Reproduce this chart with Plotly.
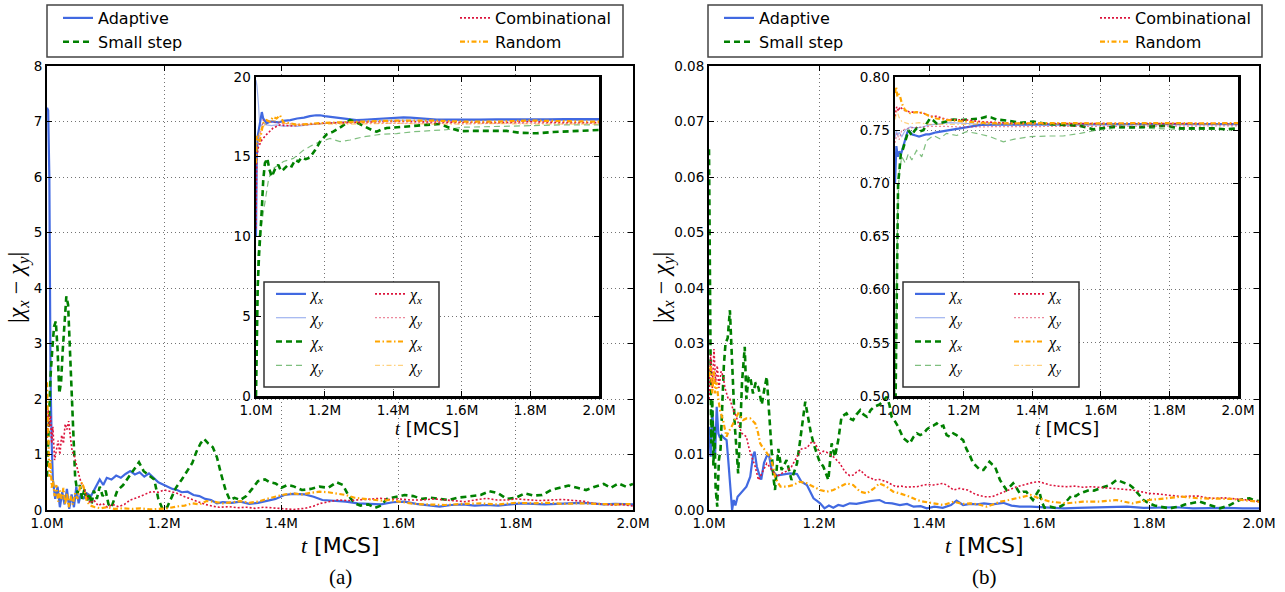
import plotly.graph_objects as go

W, H = 1285, 592

# ---------------- data (t in millions of MCS) ----------------
# Panel (a) main: |chi_x - chi_y|
A_ADAPTIVE = [(1.000, 7.25), (1.002, 7.2), (1.004, 6.0), (1.006, 2.4), (1.008, 1.2), (1.010, 0.55), (1.014, 0.2), (1.018, 0.42), (1.022, 0.05), (1.026, 0.32), (1.030, 0.1), (1.034, 0.38), (1.038, 0.02), (1.042, 0.28), (1.046, 0.05), (1.050, 0.42), (1.054, 0.12), (1.058, 0.3), (1.062, 0.2), (1.068, 0.3), (1.075, 0.25), (1.082, 0.4), (1.090, 0.55), (1.096, 0.45), (1.102, 0.58), (1.110, 0.55), (1.118, 0.62), (1.126, 0.58), (1.134, 0.65), (1.142, 0.7), (1.150, 0.64), (1.158, 0.68), (1.166, 0.6), (1.174, 0.66), (1.182, 0.58), (1.190, 0.5), (1.198, 0.46), (1.206, 0.42), (1.214, 0.38), (1.222, 0.36), (1.230, 0.32), (1.240, 0.33), (1.250, 0.27), (1.260, 0.25), (1.270, 0.2), (1.280, 0.18), (1.290, 0.12), (1.300, 0.14), (1.315, 0.13), (1.330, 0.15), (1.345, 0.11), (1.360, 0.13), (1.375, 0.16), (1.390, 0.2), (1.405, 0.27), (1.420, 0.29), (1.440, 0.28), (1.455, 0.24), (1.470, 0.18), (1.490, 0.17), (1.510, 0.15), (1.530, 0.12), (1.550, 0.11), (1.570, 0.1), (1.590, 0.14), (1.610, 0.15), (1.630, 0.11), (1.650, 0.08), (1.670, 0.06), (1.690, 0.09), (1.710, 0.1), (1.730, 0.08), (1.750, 0.09), (1.770, 0.08), (1.790, 0.1), (1.810, 0.12), (1.830, 0.11), (1.850, 0.1), (1.870, 0.11), (1.890, 0.12), (1.910, 0.13), (1.930, 0.12), (1.950, 0.1), (1.970, 0.11), (1.990, 0.1), (2.000, 0.1)]
A_SMALL = [(1.000, 0.6), (1.003, 1.5), (1.006, 2.4), (1.009, 2.9), (1.012, 3.3), (1.015, 3.4), (1.018, 2.9), (1.021, 2.1), (1.024, 2.3), (1.027, 2.9), (1.030, 3.5), (1.033, 3.85), (1.036, 3.7), (1.039, 2.9), (1.042, 2.0), (1.045, 1.1), (1.048, 0.6), (1.052, 0.3), (1.056, 0.45), (1.060, 0.2), (1.064, 0.38), (1.068, 0.15), (1.072, 0.3), (1.076, 0.1), (1.080, 0.35), (1.085, 0.2), (1.090, 0.42), (1.095, 0.25), (1.100, 0.35), (1.105, 0.1), (1.110, 0.05), (1.115, 0.2), (1.120, 0.35), (1.130, 0.45), (1.140, 0.6), (1.150, 0.75), (1.157, 0.86), (1.165, 0.7), (1.175, 0.62), (1.183, 0.55), (1.190, 0.2), (1.197, 0.02), (1.205, 0.05), (1.212, 0.2), (1.220, 0.4), (1.230, 0.55), (1.240, 0.72), (1.248, 0.85), (1.255, 1.05), (1.262, 1.2), (1.268, 1.28), (1.275, 1.2), (1.283, 1.13), (1.290, 0.95), (1.297, 0.65), (1.305, 0.35), (1.312, 0.18), (1.320, 0.22), (1.330, 0.18), (1.340, 0.25), (1.350, 0.38), (1.360, 0.52), (1.372, 0.55), (1.380, 0.5), (1.390, 0.48), (1.400, 0.4), (1.410, 0.45), (1.420, 0.43), (1.435, 0.36), (1.450, 0.38), (1.465, 0.42), (1.480, 0.4), (1.494, 0.5), (1.505, 0.45), (1.515, 0.25), (1.525, 0.12), (1.535, 0.08), (1.548, 0.1), (1.560, 0.04), (1.570, 0.08), (1.580, 0.2), (1.595, 0.24), (1.610, 0.27), (1.625, 0.25), (1.640, 0.2), (1.655, 0.22), (1.670, 0.2), (1.685, 0.18), (1.700, 0.22), (1.720, 0.24), (1.740, 0.27), (1.755, 0.34), (1.770, 0.3), (1.785, 0.2), (1.800, 0.22), (1.815, 0.3), (1.830, 0.26), (1.845, 0.27), (1.860, 0.36), (1.875, 0.4), (1.890, 0.44), (1.905, 0.4), (1.920, 0.36), (1.935, 0.42), (1.950, 0.47), (1.962, 0.4), (1.975, 0.48), (1.988, 0.42), (2.000, 0.47)]
A_COMB = [(1.000, 1.3), (1.002, 1.8), (1.004, 1.5), (1.006, 1.7), (1.008, 1.2), (1.010, 1.5), (1.013, 0.9), (1.016, 1.1), (1.019, 1.25), (1.022, 1.0), (1.025, 1.35), (1.028, 1.2), (1.031, 1.55), (1.034, 1.45), (1.037, 1.6), (1.040, 1.3), (1.043, 1.05), (1.046, 1.0), (1.050, 0.8), (1.054, 0.65), (1.058, 0.5), (1.063, 0.4), (1.068, 0.25), (1.074, 0.12), (1.080, 0.18), (1.087, 0.08), (1.095, 0.12), (1.103, 0.05), (1.112, 0.1), (1.122, 0.06), (1.132, 0.1), (1.142, 0.18), (1.153, 0.22), (1.164, 0.27), (1.178, 0.33), (1.190, 0.32), (1.200, 0.36), (1.212, 0.33), (1.222, 0.3), (1.235, 0.24), (1.245, 0.2), (1.258, 0.14), (1.270, 0.1), (1.282, 0.07), (1.294, 0.05), (1.310, 0.06), (1.325, 0.04), (1.340, 0.05), (1.355, 0.03), (1.370, 0.05), (1.388, 0.04), (1.405, 0.02), (1.420, 0.01), (1.440, 0.03), (1.455, 0.07), (1.467, 0.12), (1.480, 0.15), (1.496, 0.18), (1.515, 0.17), (1.532, 0.18), (1.550, 0.2), (1.569, 0.21), (1.585, 0.19), (1.600, 0.2), (1.620, 0.18), (1.640, 0.18), (1.660, 0.2), (1.677, 0.18), (1.695, 0.16), (1.713, 0.15), (1.730, 0.18), (1.750, 0.21), (1.768, 0.18), (1.785, 0.18), (1.800, 0.2), (1.820, 0.19), (1.840, 0.17), (1.860, 0.18), (1.880, 0.19), (1.900, 0.17), (1.915, 0.16), (1.930, 0.12), (1.950, 0.11), (1.965, 0.09), (1.980, 0.1), (2.000, 0.07)]
A_RANDOM = [(1.000, 2.3), (1.002, 1.2), (1.004, 0.6), (1.006, 0.9), (1.008, 0.4), (1.010, 0.55), (1.013, 0.25), (1.016, 0.45), (1.019, 0.15), (1.022, 0.35), (1.025, 0.2), (1.028, 0.4), (1.031, 0.1), (1.034, 0.3), (1.037, 0.05), (1.040, 0.25), (1.044, 0.1), (1.048, 0.3), (1.052, 0.2), (1.056, 0.4), (1.060, 0.5), (1.064, 0.35), (1.068, 0.15), (1.074, 0.08), (1.082, 0.05), (1.092, 0.03), (1.102, 0.05), (1.115, 0.02), (1.130, 0.03), (1.145, 0.02), (1.160, 0.03), (1.175, 0.01), (1.190, 0.02), (1.205, 0.03), (1.220, 0.06), (1.235, 0.08), (1.248, 0.12), (1.260, 0.1), (1.272, 0.16), (1.285, 0.15), (1.300, 0.12), (1.315, 0.14), (1.330, 0.16), (1.345, 0.13), (1.360, 0.15), (1.375, 0.2), (1.390, 0.24), (1.405, 0.28), (1.420, 0.3), (1.435, 0.28), (1.450, 0.31), (1.465, 0.33), (1.480, 0.32), (1.495, 0.3), (1.510, 0.27), (1.525, 0.22), (1.540, 0.2), (1.555, 0.19), (1.570, 0.17), (1.585, 0.18), (1.600, 0.15), (1.625, 0.11), (1.650, 0.1), (1.680, 0.09), (1.710, 0.11), (1.740, 0.12), (1.770, 0.1), (1.800, 0.13), (1.830, 0.12), (1.855, 0.13), (1.880, 0.11), (1.910, 0.12), (1.940, 0.11), (1.970, 0.1), (2.000, 0.11)]

# Panel (a) inset: chi_x and chi_y
AI_ADAPTIVE_X = [(1.000, 10.0), (1.002, 14.8), (1.005, 16.3), (1.010, 16.9), (1.014, 17.5), (1.017, 17.8), (1.021, 17.4), (1.026, 17.2), (1.031, 17.1), (1.040, 17.2), (1.050, 17.2), (1.065, 17.15), (1.080, 17.25), (1.100, 17.3), (1.120, 17.4), (1.140, 17.45), (1.157, 17.55), (1.175, 17.6), (1.187, 17.6), (1.200, 17.55), (1.216, 17.5), (1.235, 17.45), (1.255, 17.4), (1.275, 17.35), (1.293, 17.3), (1.312, 17.32), (1.332, 17.35), (1.360, 17.38), (1.390, 17.4), (1.410, 17.45), (1.430, 17.47), (1.450, 17.45), (1.470, 17.42), (1.500, 17.38), (1.527, 17.33), (1.560, 17.33), (1.604, 17.32), (1.650, 17.33), (1.700, 17.35), (1.750, 17.34), (1.800, 17.35), (1.850, 17.34), (1.900, 17.36), (1.950, 17.35), (2.000, 17.36)]
AI_ADAPTIVE_Y = [(1.000, 19.8), (1.003, 19.4), (1.007, 18.35), (1.010, 17.3), (1.014, 16.9), (1.021, 17.1), (1.030, 17.0), (1.045, 16.95), (1.060, 17.0), (1.080, 16.9), (1.100, 16.95), (1.120, 16.9), (1.150, 17.0), (1.180, 17.05), (1.220, 17.15), (1.260, 17.2), (1.300, 17.2), (1.350, 17.25), (1.400, 17.3), (1.450, 17.3), (1.500, 17.28), (1.600, 17.27), (1.700, 17.28), (1.800, 17.27), (1.900, 17.28), (2.000, 17.28)]
AI_SMALL_X = [(1.000, 0.0), (1.002, 3.7), (1.005, 6.85), (1.009, 8.9), (1.014, 10.4), (1.017, 11.7), (1.021, 13.5), (1.026, 14.6), (1.033, 14.9), (1.039, 14.2), (1.046, 13.75), (1.055, 14.2), (1.065, 14.5), (1.073, 14.1), (1.080, 14.2), (1.094, 14.5), (1.104, 14.4), (1.114, 14.8), (1.124, 14.7), (1.133, 14.95), (1.145, 14.85), (1.157, 14.95), (1.172, 15.4), (1.187, 15.95), (1.206, 16.4), (1.225, 16.57), (1.250, 16.9), (1.262, 17.1), (1.274, 17.3), (1.298, 17.1), (1.323, 16.8), (1.340, 16.65), (1.352, 16.57), (1.365, 16.7), (1.381, 16.8), (1.420, 16.85), (1.459, 16.93), (1.497, 17.0), (1.536, 17.05), (1.566, 16.8), (1.595, 16.6), (1.634, 16.62), (1.682, 16.6), (1.731, 16.62), (1.770, 16.5), (1.818, 16.47), (1.867, 16.55), (1.915, 16.6), (1.954, 16.63), (2.000, 16.68)]
AI_SMALL_Y = [(1.000, 0.0), (1.002, 5.8), (1.005, 8.7), (1.010, 10.2), (1.015, 10.6), (1.021, 11.45), (1.029, 12.5), (1.036, 13.5), (1.046, 14.2), (1.060, 14.4), (1.080, 14.7), (1.109, 14.9), (1.138, 15.4), (1.162, 15.7), (1.187, 15.95), (1.216, 16.15), (1.245, 15.95), (1.274, 16.05), (1.313, 16.25), (1.362, 16.4), (1.410, 16.45), (1.459, 16.57), (1.507, 16.63), (1.556, 16.7), (1.604, 16.85), (1.700, 16.9), (1.800, 16.93), (1.900, 17.0), (2.000, 17.0)]
AI_COMB_X = [(1.000, 10.5), (1.002, 15.0), (1.007, 15.6), (1.017, 16.05), (1.031, 16.4), (1.050, 16.8), (1.070, 17.0), (1.100, 16.93), (1.138, 17.0), (1.196, 17.1), (1.264, 17.15), (1.332, 17.2), (1.410, 17.22), (1.507, 17.18), (1.604, 17.15), (1.700, 17.15), (1.800, 17.2), (1.900, 17.15), (2.000, 17.15)]
AI_COMB_Y = [(1.000, 12.0), (1.002, 15.2), (1.011, 16.3), (1.021, 17.3), (1.040, 17.2), (1.070, 17.1), (1.120, 17.05), (1.200, 17.1), (1.300, 17.1), (1.400, 17.12), (1.500, 17.1), (1.600, 17.08), (1.700, 17.1), (1.800, 17.1), (1.900, 17.08), (2.000, 17.1)]
AI_RANDOM_X = [(1.000, 14.6), (1.002, 16.3), (1.010, 15.9), (1.017, 16.6), (1.021, 17.1), (1.031, 17.3), (1.040, 17.2), (1.050, 17.5), (1.060, 17.4), (1.070, 17.6), (1.080, 17.15), (1.100, 17.1), (1.120, 17.0), (1.150, 17.05), (1.177, 17.1), (1.235, 17.15), (1.313, 17.2), (1.410, 17.27), (1.507, 17.27), (1.604, 17.2), (1.700, 17.2), (1.800, 17.27), (1.900, 17.23), (2.000, 17.2)]
AI_RANDOM_Y = [(1.000, 15.5), (1.003, 16.0), (1.012, 16.7), (1.021, 16.9), (1.040, 17.3), (1.070, 17.2), (1.100, 17.0), (1.200, 17.05), (1.300, 17.05), (1.400, 17.1), (1.500, 17.05), (1.600, 17.05), (1.700, 17.08), (1.800, 17.05), (1.900, 17.05), (2.000, 17.05)]

# Panel (b) main
B_ADAPTIVE = [(1.000, 0.015), (1.003, 0.0096), (1.006, 0.018), (1.009, 0.012), (1.011, 0.0096), (1.014, 0.0186), (1.017, 0.0138), (1.020, 0.013), (1.023, 0.0135), (1.027, 0.013), (1.032, 0.0126), (1.035, 0.009), (1.038, 0.0054), (1.040, 0.002), (1.042, 0.0), (1.045, 0.0018), (1.048, 0.0008), (1.052, 0.0024), (1.057, 0.003), (1.062, 0.0036), (1.068, 0.0042), (1.075, 0.006), (1.080, 0.0098), (1.083, 0.0105), (1.087, 0.0078), (1.091, 0.0065), (1.095, 0.0055), (1.100, 0.0085), (1.105, 0.0097), (1.109, 0.0099), (1.114, 0.0072), (1.123, 0.0062), (1.135, 0.0064), (1.147, 0.0066), (1.160, 0.0065), (1.168, 0.0051), (1.178, 0.0045), (1.185, 0.003), (1.190, 0.0021), (1.197, 0.0016), (1.202, 0.0012), (1.210, 0.0003), (1.218, 0.0008), (1.226, 0.0004), (1.235, 0.0009), (1.244, 0.0007), (1.256, 0.0012), (1.268, 0.0011), (1.280, 0.0014), (1.293, 0.0016), (1.310, 0.0018), (1.320, 0.0013), (1.333, 0.0012), (1.347, 0.0009), (1.360, 0.0011), (1.372, 0.0006), (1.385, 0.0007), (1.396, 0.0003), (1.410, 0.0006), (1.425, 0.0004), (1.440, 0.0009), (1.450, 0.0017), (1.462, 0.0009), (1.475, 0.0011), (1.487, 0.001), (1.500, 0.0012), (1.515, 0.001), (1.535, 0.0013), (1.550, 0.0008), (1.565, 0.0006), (1.585, 0.0006), (1.600, 0.0005), (1.620, 0.0004), (1.645, 0.0003), (1.670, 0.0004), (1.700, 0.0005), (1.730, 0.0006), (1.760, 0.0006), (1.790, 0.0004), (1.820, 0.0004), (1.850, 0.0005), (1.880, 0.0003), (1.910, 0.0004), (1.940, 0.0004), (1.970, 0.0003), (2.000, 0.0003)]
B_SMALL = [(1.000, 0.065), (1.002, 0.03), (1.004, 0.012), (1.006, 0.02), (1.008, 0.008), (1.010, 0.015), (1.012, 0.004), (1.015, 0.0006), (1.018, 0.009), (1.021, 0.011), (1.024, 0.02), (1.027, 0.026), (1.030, 0.03), (1.034, 0.031), (1.038, 0.036), (1.041, 0.029), (1.044, 0.02), (1.047, 0.015), (1.050, 0.011), (1.053, 0.0066), (1.057, 0.015), (1.060, 0.023), (1.065, 0.0294), (1.068, 0.02), (1.072, 0.024), (1.075, 0.024), (1.080, 0.021), (1.085, 0.023), (1.090, 0.022), (1.096, 0.019), (1.101, 0.022), (1.105, 0.024), (1.111, 0.015), (1.117, 0.006), (1.120, 0.0036), (1.126, 0.011), (1.132, 0.0072), (1.141, 0.009), (1.150, 0.0054), (1.160, 0.0084), (1.165, 0.012), (1.170, 0.016), (1.175, 0.0195), (1.180, 0.0168), (1.185, 0.014), (1.190, 0.012), (1.200, 0.009), (1.208, 0.0078), (1.217, 0.0054), (1.223, 0.012), (1.229, 0.0096), (1.235, 0.0126), (1.241, 0.0168), (1.250, 0.0174), (1.256, 0.0165), (1.262, 0.0162), (1.268, 0.0172), (1.275, 0.018), (1.281, 0.0172), (1.287, 0.0168), (1.294, 0.018), (1.300, 0.0186), (1.310, 0.019), (1.317, 0.0196), (1.323, 0.0204), (1.328, 0.019), (1.332, 0.0168), (1.338, 0.016), (1.344, 0.015), (1.353, 0.013), (1.360, 0.0125), (1.365, 0.012), (1.372, 0.0132), (1.378, 0.0138), (1.384, 0.0135), (1.390, 0.0138), (1.396, 0.0145), (1.402, 0.015), (1.408, 0.0152), (1.414, 0.0156), (1.420, 0.015), (1.426, 0.0152), (1.432, 0.0135), (1.438, 0.0132), (1.444, 0.0138), (1.450, 0.0135), (1.456, 0.013), (1.462, 0.0126), (1.468, 0.011), (1.474, 0.0099), (1.480, 0.0085), (1.487, 0.0078), (1.493, 0.0072), (1.499, 0.0072), (1.505, 0.008), (1.510, 0.0087), (1.515, 0.0082), (1.520, 0.0078), (1.525, 0.0065), (1.529, 0.0054), (1.535, 0.0045), (1.541, 0.0036), (1.547, 0.0042), (1.553, 0.0048), (1.559, 0.004), (1.565, 0.003), (1.571, 0.0033), (1.577, 0.0033), (1.583, 0.0025), (1.589, 0.0018), (1.595, 0.0028), (1.600, 0.0036), (1.605, 0.0015), (1.610, 0.0004), (1.620, 0.0006), (1.632, 0.0003), (1.644, 0.0009), (1.652, 0.0018), (1.660, 0.0027), (1.667, 0.0025), (1.674, 0.003), (1.683, 0.0033), (1.692, 0.0036), (1.700, 0.0035), (1.710, 0.0039), (1.719, 0.0042), (1.729, 0.0045), (1.735, 0.005), (1.741, 0.0054), (1.747, 0.0052), (1.753, 0.005), (1.759, 0.0048), (1.765, 0.0045), (1.771, 0.004), (1.777, 0.0033), (1.784, 0.0025), (1.790, 0.0018), (1.800, 0.0012), (1.810, 0.0008), (1.820, 0.0006), (1.830, 0.0004), (1.838, 0.0003), (1.847, 0.0005), (1.856, 0.0006), (1.865, 0.001), (1.874, 0.0012), (1.883, 0.0014), (1.892, 0.0015), (1.901, 0.0012), (1.910, 0.0009), (1.920, 0.0005), (1.929, 0.0003), (1.938, 0.0006), (1.947, 0.0009), (1.956, 0.0014), (1.965, 0.0018), (1.974, 0.002), (1.983, 0.0021), (1.990, 0.0018), (2.000, 0.0016)]
B_COMB = [(1.000, 0.02), (1.003, 0.028), (1.006, 0.022), (1.009, 0.029), (1.012, 0.023), (1.015, 0.026), (1.018, 0.022), (1.022, 0.025), (1.026, 0.024), (1.029, 0.022), (1.032, 0.021), (1.035, 0.02), (1.038, 0.02), (1.041, 0.019), (1.044, 0.018), (1.049, 0.017), (1.053, 0.0156), (1.057, 0.0145), (1.060, 0.0138), (1.064, 0.0135), (1.068, 0.0132), (1.073, 0.011), (1.078, 0.0096), (1.084, 0.0078), (1.090, 0.0054), (1.096, 0.0066), (1.100, 0.0075), (1.105, 0.0084), (1.110, 0.0078), (1.114, 0.0072), (1.119, 0.0064), (1.123, 0.006), (1.132, 0.0066), (1.141, 0.007), (1.150, 0.0078), (1.155, 0.0088), (1.160, 0.0096), (1.168, 0.011), (1.178, 0.0112), (1.187, 0.0123), (1.193, 0.012), (1.202, 0.0102), (1.208, 0.0106), (1.214, 0.0104), (1.220, 0.01), (1.226, 0.0096), (1.232, 0.009), (1.238, 0.0084), (1.244, 0.0074), (1.250, 0.0066), (1.256, 0.0062), (1.262, 0.0063), (1.268, 0.0068), (1.275, 0.0072), (1.281, 0.0066), (1.287, 0.006), (1.294, 0.0058), (1.300, 0.0054), (1.310, 0.0055), (1.323, 0.0051), (1.332, 0.0046), (1.340, 0.0042), (1.350, 0.0043), (1.360, 0.0041), (1.370, 0.0042), (1.378, 0.0042), (1.387, 0.0044), (1.396, 0.0046), (1.408, 0.0045), (1.418, 0.0047), (1.426, 0.0048), (1.435, 0.0043), (1.445, 0.0036), (1.455, 0.0039), (1.470, 0.0036), (1.485, 0.0028), (1.500, 0.0024), (1.515, 0.0024), (1.530, 0.003), (1.545, 0.0036), (1.560, 0.0042), (1.575, 0.0046), (1.590, 0.005), (1.600, 0.0051), (1.610, 0.0048), (1.620, 0.0045), (1.635, 0.0043), (1.650, 0.0042), (1.665, 0.0043), (1.680, 0.0041), (1.695, 0.0042), (1.710, 0.0041), (1.725, 0.004), (1.740, 0.0039), (1.755, 0.0038), (1.770, 0.0036), (1.785, 0.0033), (1.800, 0.003), (1.815, 0.0029), (1.830, 0.0027), (1.845, 0.0026), (1.860, 0.0024), (1.875, 0.0025), (1.890, 0.0025), (1.905, 0.0022), (1.920, 0.0021), (1.935, 0.0022), (1.950, 0.0021), (1.965, 0.0019), (1.980, 0.0018), (2.000, 0.0015)]
B_RANDOM = [(1.000, 0.024), (1.003, 0.026), (1.006, 0.021), (1.009, 0.025), (1.011, 0.021), (1.014, 0.023), (1.017, 0.02), (1.020, 0.018), (1.023, 0.017), (1.026, 0.016), (1.029, 0.0145), (1.032, 0.0132), (1.035, 0.014), (1.038, 0.0144), (1.041, 0.015), (1.044, 0.0156), (1.049, 0.0165), (1.053, 0.0174), (1.058, 0.0168), (1.062, 0.0162), (1.068, 0.0165), (1.075, 0.0165), (1.080, 0.016), (1.084, 0.0156), (1.089, 0.014), (1.093, 0.012), (1.098, 0.0112), (1.102, 0.0108), (1.107, 0.01), (1.111, 0.0096), (1.116, 0.008), (1.120, 0.006), (1.125, 0.005), (1.130, 0.0042), (1.141, 0.0042), (1.153, 0.0045), (1.165, 0.0051), (1.178, 0.0048), (1.190, 0.0042), (1.202, 0.0036), (1.214, 0.0033), (1.226, 0.0036), (1.238, 0.0042), (1.250, 0.0048), (1.262, 0.0045), (1.275, 0.0033), (1.287, 0.003), (1.300, 0.0039), (1.310, 0.0048), (1.323, 0.0042), (1.335, 0.0033), (1.347, 0.003), (1.365, 0.0024), (1.378, 0.0018), (1.390, 0.0015), (1.408, 0.0012), (1.426, 0.0009), (1.445, 0.0015), (1.460, 0.0011), (1.475, 0.0012), (1.490, 0.001), (1.505, 0.0006), (1.530, 0.0015), (1.545, 0.0018), (1.560, 0.0021), (1.575, 0.0024), (1.585, 0.0027), (1.600, 0.0021), (1.620, 0.0015), (1.650, 0.0012), (1.680, 0.0015), (1.710, 0.0015), (1.740, 0.0018), (1.770, 0.0012), (1.800, 0.0018), (1.830, 0.0021), (1.860, 0.0024), (1.890, 0.0021), (1.920, 0.0021), (1.950, 0.002), (1.980, 0.0017), (2.000, 0.0015)]

# Panel (b) inset
BI_ADAPTIVE_X = [(1.000, 0.70), (1.004, 0.735), (1.008, 0.725), (1.012, 0.73), (1.018, 0.728), (1.024, 0.735), (1.030, 0.742), (1.036, 0.748), (1.042, 0.749), (1.050, 0.746), (1.060, 0.745), (1.070, 0.744), (1.080, 0.745), (1.090, 0.746), (1.100, 0.746), (1.120, 0.748), (1.150, 0.7495), (1.180, 0.751), (1.210, 0.753), (1.250, 0.755), (1.300, 0.7552), (1.350, 0.7553), (1.400, 0.7556), (1.500, 0.7558), (1.600, 0.7557), (1.700, 0.7557), (1.800, 0.7557), (1.900, 0.7556), (2.000, 0.7557)]
BI_ADAPTIVE_Y = [(1.000, 0.742), (1.004, 0.75), (1.008, 0.745), (1.012, 0.748), (1.020, 0.744), (1.030, 0.75), (1.045, 0.753), (1.060, 0.752), (1.080, 0.753), (1.100, 0.755), (1.130, 0.756), (1.160, 0.757), (1.200, 0.7565), (1.250, 0.7555), (1.300, 0.7555), (1.400, 0.7555), (1.500, 0.7556), (1.600, 0.7555), (1.700, 0.7556), (1.800, 0.7555), (1.900, 0.7556), (2.000, 0.7556)]
BI_SMALL_X = [(1.000, 0.45), (1.003, 0.55), (1.006, 0.64), (1.009, 0.70), (1.013, 0.7125), (1.017, 0.728), (1.022, 0.731), (1.029, 0.7376), (1.034, 0.744), (1.039, 0.75), (1.044, 0.748), (1.049, 0.745), (1.056, 0.749), (1.063, 0.7517), (1.073, 0.749), (1.083, 0.75), (1.092, 0.756), (1.102, 0.761), (1.112, 0.759), (1.121, 0.7564), (1.135, 0.757), (1.150, 0.758), (1.170, 0.760), (1.190, 0.7595), (1.219, 0.760), (1.248, 0.761), (1.267, 0.7627), (1.280, 0.762), (1.296, 0.760), (1.326, 0.759), (1.364, 0.757), (1.403, 0.758), (1.442, 0.7558), (1.490, 0.755), (1.540, 0.754), (1.578, 0.7508), (1.598, 0.7517), (1.637, 0.7533), (1.696, 0.7527), (1.753, 0.7533), (1.792, 0.754), (1.831, 0.7517), (1.880, 0.7517), (1.928, 0.7517), (1.967, 0.7508), (2.000, 0.7517)]
BI_SMALL_Y = [(1.000, 0.50), (1.004, 0.62), (1.008, 0.675), (1.012, 0.71), (1.020, 0.725), (1.030, 0.719), (1.039, 0.728), (1.049, 0.722), (1.063, 0.731), (1.078, 0.725), (1.092, 0.74), (1.112, 0.745), (1.131, 0.742), (1.150, 0.747), (1.180, 0.745), (1.209, 0.7486), (1.238, 0.747), (1.277, 0.7439), (1.316, 0.739), (1.345, 0.7414), (1.394, 0.7439), (1.442, 0.7445), (1.490, 0.7445), (1.540, 0.747), (1.588, 0.75), (1.637, 0.7517), (1.734, 0.7517), (1.831, 0.7508), (1.928, 0.7508), (2.000, 0.7517)]
BI_COMB_X = [(1.000, 0.763), (1.005, 0.772), (1.010, 0.768), (1.015, 0.772), (1.024, 0.769), (1.044, 0.767), (1.063, 0.767), (1.083, 0.766), (1.102, 0.763), (1.121, 0.763), (1.150, 0.760), (1.180, 0.7596), (1.209, 0.7596), (1.248, 0.758), (1.300, 0.757), (1.345, 0.7564), (1.400, 0.7562), (1.500, 0.7562), (1.600, 0.7564), (1.700, 0.7562), (1.800, 0.7564), (1.900, 0.7562), (2.000, 0.7562)]
BI_COMB_Y = [(1.000, 0.738), (1.006, 0.747), (1.012, 0.741), (1.020, 0.75), (1.040, 0.752), (1.070, 0.753), (1.100, 0.7535), (1.150, 0.7535), (1.200, 0.753), (1.300, 0.7533), (1.400, 0.7533), (1.500, 0.7535), (1.600, 0.7535), (1.700, 0.754), (1.800, 0.754), (1.900, 0.754), (2.000, 0.754)]
BI_RANDOM_X = [(1.000, 0.785), (1.003, 0.791), (1.007, 0.7815), (1.011, 0.784), (1.015, 0.7815), (1.020, 0.775), (1.029, 0.769), (1.044, 0.766), (1.063, 0.767), (1.083, 0.766), (1.102, 0.763), (1.121, 0.761), (1.150, 0.7596), (1.200, 0.758), (1.248, 0.757), (1.300, 0.7564), (1.400, 0.7567), (1.500, 0.7567), (1.600, 0.7564), (1.700, 0.7567), (1.800, 0.7567), (1.900, 0.7564), (2.000, 0.7567)]
BI_RANDOM_Y = [(1.000, 0.76), (1.006, 0.768), (1.012, 0.762), (1.020, 0.758), (1.040, 0.756), (1.070, 0.757), (1.100, 0.7555), (1.150, 0.7555), (1.200, 0.7555), (1.300, 0.7553), (1.400, 0.7553), (1.500, 0.7555), (1.600, 0.7555), (1.700, 0.7553), (1.800, 0.7555), (1.900, 0.7555), (2.000, 0.7555)]

X_TICKS = [1.0, 1.2, 1.4, 1.6, 1.8, 2.0]
X_TICK_TEXT = ["1.0M", "1.2M", "1.4M", "1.6M", "1.8M", "2.0M"]
A_Y_TICKS = [0, 1, 2, 3, 4, 5, 6, 7, 8]
AI_Y_TICKS = [0, 5, 10, 15, 20]
B_Y_TICKS = [0.0, 0.01, 0.02, 0.03, 0.04, 0.05, 0.06, 0.07, 0.08]
BI_Y_TICKS = [0.50, 0.55, 0.60, 0.65, 0.70, 0.75, 0.80]
METHODS = ["Adaptive", "Small step", "Combinational", "Random"]

# ---------------- styles ----------------
COL = {"Adaptive": "#4169E1", "Small step": "#008000", "Combinational": "#DC143C", "Random": "#FFA500"}
DASH = {"Adaptive": "solid", "Small step": "6px,4px", "Combinational": "2px,2px", "Random": "5px,2.5px,1.5px,2.5px"}
WID = {"Adaptive": 2.2, "Small step": 2.6, "Combinational": 1.6, "Random": 2.2}

def px_x(p):
    return p / W

def px_y(p):
    return 1 - p / H

fig = go.Figure()

def unzip(pairs):
    return [p[0] for p in pairs], [p[1] for p in pairs]

def add(pairs, name, method, xa, ya, legend, showlegend, light=False):
    xs, ys = unzip(pairs)
    fig.add_trace(go.Scatter(
        x=xs, y=ys, mode="lines", name=name, xaxis=xa, yaxis=ya,
        legend=legend, showlegend=showlegend,
        opacity=0.5 if light else 1.0,
        line=dict(color=COL[method], dash=DASH[method],
                  width=1.2 if light else WID[method]),
        hoverinfo="skip"))

CHI_X = "<i>χ</i><sub><i>x</i></sub>"
CHI_Y = "<i>χ</i><sub><i>y</i></sub>"

# panel (a)
main_a = [A_ADAPTIVE, A_SMALL, A_COMB, A_RANDOM]
for i, (m, d) in enumerate(zip(METHODS, main_a)):
    add(d, m, m, "x", "y", "legend" if i < 2 else "legend2", True)
inset_a = [(AI_ADAPTIVE_X, AI_ADAPTIVE_Y), (AI_SMALL_X, AI_SMALL_Y), (AI_COMB_X, AI_COMB_Y), (AI_RANDOM_X, AI_RANDOM_Y)]
for i, (m, (dx, dy)) in enumerate(zip(METHODS, inset_a)):
    lg = "legend3" if i < 2 else "legend4"
    add(dx, CHI_X, m, "x2", "y2", lg, True)
    add(dy, CHI_Y, m, "x2", "y2", lg, True, light=True)

# panel (b)
main_b = [B_ADAPTIVE, B_SMALL, B_COMB, B_RANDOM]
for i, (m, d) in enumerate(zip(METHODS, main_b)):
    add(d, m, m, "x3", "y3", "legend5" if i < 2 else "legend6", True)
inset_b = [(BI_ADAPTIVE_X, BI_ADAPTIVE_Y), (BI_SMALL_X, BI_SMALL_Y), (BI_COMB_X, BI_COMB_Y), (BI_RANDOM_X, BI_RANDOM_Y)]
for i, (m, (dx, dy)) in enumerate(zip(METHODS, inset_b)):
    lg = "legend7" if i < 2 else "legend8"
    add(dx, CHI_X, m, "x4", "y4", lg, True)
    add(dy, CHI_Y, m, "x4", "y4", lg, True, light=True)

TICKFONT = dict(family="DejaVu Sans", size=13.5, color="black")

def axis(dom, rng, tv, tt, anchor, lw=2):
    return dict(domain=dom, range=rng, tickvals=tv, ticktext=tt, anchor=anchor,
                showline=True, linecolor="black", linewidth=lw, mirror="ticks",
                ticks="inside", ticklen=5, tickwidth=1, tickcolor="black",
                showgrid=True, gridcolor="rgba(0,0,0,0.55)", griddash="1px,3px", gridwidth=1,
                zeroline=False, tickfont=TICKFONT, fixedrange=True, automargin=False)

main_ydom = [px_y(510), px_y(66)]
inset_ydom = [px_y(396), px_y(77)]

layout = dict(
    width=W, height=H, margin=dict(l=0, r=0, t=0, b=0, pad=0, autoexpand=False),
    paper_bgcolor="white", plot_bgcolor="white",
    xaxis=axis([px_x(47), px_x(633)], [1.0, 2.0], X_TICKS, X_TICK_TEXT, "y"),
    yaxis=axis(main_ydom, [0, 8], A_Y_TICKS, [str(v) for v in A_Y_TICKS], "x"),
    xaxis2=axis([px_x(256), px_x(599)], [1.0, 2.0], X_TICKS, X_TICK_TEXT, "y2", 2.5),
    yaxis2=axis(inset_ydom, [0, 20], AI_Y_TICKS, [str(v) for v in AI_Y_TICKS], "x2", 2.5),
    xaxis3=axis([px_x(709), px_x(1259)], [1.0, 2.0], X_TICKS, X_TICK_TEXT, "y3"),
    yaxis3=axis(main_ydom, [0, 0.08], B_Y_TICKS, ["%.2f" % v for v in B_Y_TICKS], "x3"),
    xaxis4=axis([px_x(895), px_x(1238)], [1.0, 2.0], X_TICKS, X_TICK_TEXT, "y4", 2.5),
    yaxis4=axis(inset_ydom, [0.5, 0.8], BI_Y_TICKS, ["%.2f" % v for v in BI_Y_TICKS], "x4", 2.5),
)

def leg(xp, yp, font):
    return dict(x=px_x(xp), y=px_y(yp), xanchor="left", yanchor="top",
                bgcolor="rgba(0,0,0,0)", borderwidth=0, itemwidth=30,
                tracegroupgap=0, font=font, orientation="v")

TOPFONT = dict(family="DejaVu Sans", size=16, color="black")
INFONT = dict(family="Liberation Serif", size=16, color="black")
layout["legend"] = leg(58, 1, TOPFONT)
layout["legend2"] = leg(455, 1, TOPFONT)
layout["legend3"] = leg(271, 277, INFONT)
layout["legend4"] = leg(370, 277, INFONT)
layout["legend5"] = leg(719, 1, TOPFONT)
layout["legend6"] = leg(1095, 1, TOPFONT)
layout["legend7"] = leg(910, 277, INFONT)
layout["legend8"] = leg(1009, 277, INFONT)

def frame(x0, y0, x1, y1, color="#444"):
    return dict(type="rect", xref="paper", yref="paper",
                x0=px_x(x0), x1=px_x(x1), y0=px_y(y1), y1=px_y(y0),
                line=dict(color=color, width=1.5), fillcolor="white", layer="above")

layout["shapes"] = [
    frame(47, 5, 623, 57), frame(708, 5, 1262, 57),
    frame(264, 282, 439, 387, "#333"), frame(903, 282, 1079, 387, "#333"),
]

YT = "|<i>χ</i><sub><i>x</i></sub> − <i>χ</i><sub><i>y</i></sub>|"
XT = "<span style='font-family:Liberation Serif'><i>t</i></span> [MCS]"

def ann(text, xp, yp, size, family="DejaVu Sans", angle=0):
    return dict(text=text, x=px_x(xp), y=px_y(yp), xref="paper", yref="paper",
                showarrow=False, xanchor="center", yanchor="middle", textangle=angle,
                font=dict(family=family, size=size, color="black"))

layout["annotations"] = [
    ann(YT, 18, 288, 24, "Liberation Serif", -90),
    ann(YT, 663, 288, 24, "Liberation Serif", -90),
    ann(XT, 340, 545, 22),
    ann(XT, 984, 545, 22),
    ann(XT, 427, 428, 18),
    ann(XT, 1067, 428, 18),
    ann("(a)", 340, 577, 21, "Liberation Serif"),
    ann("(b)", 984, 577, 21, "Liberation Serif"),
]

fig.update_layout(**layout)
fig.write_html("out.html", config={"displayModeBar": False, "staticPlot": True},
               post_script="document.body.style.margin='0px';document.body.style.overflow='hidden';")
